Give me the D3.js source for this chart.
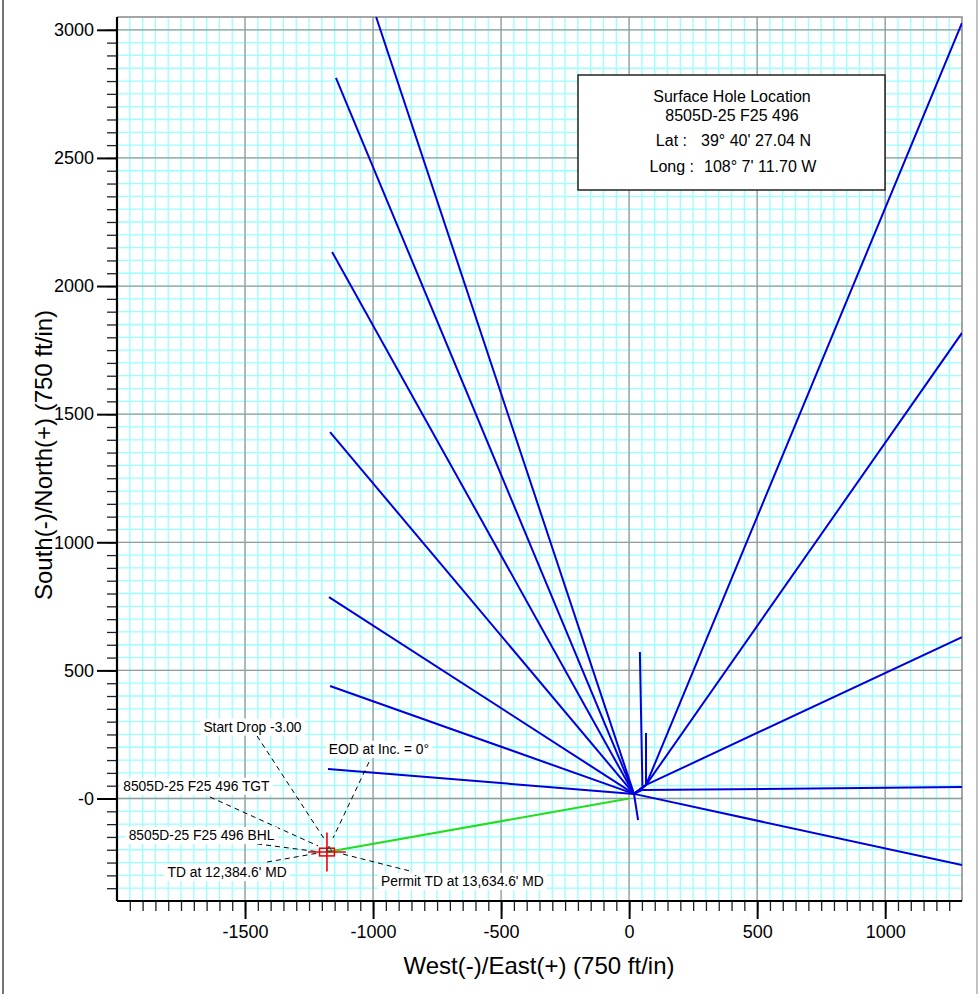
<!DOCTYPE html>
<html>
<head>
<meta charset="utf-8">
<script src="https://cdn.jsdelivr.net/npm/d3@7"></script>
<style>
  body { margin: 0; background: #fff; }
  text { font-family: "Liberation Sans", Arial, sans-serif; }
</style>
</head>
<body>
<div id="plan"></div>
<script>
// plan view data (ft): offset wells, subject well, target, labels
const xMajorTicks = [-1500, -1000, -500, 0, 500, 1000];
const yMajorTicks = [0, 500, 1000, 1500, 2000, 2500, 3000];

const offsetWells = [
  [[19, 18], [-988, 3050]],
  [[19, 18], [-1145, 2812]],
  [[19, 18], [-1160, 2133]],
  [[19, 18], [-1168, 1430]],
  [[19, 18], [-1172, 786]],
  [[19, 18], [-1168, 439]],
  [[19, 18], [-1176, 115]],
  [[19, 18], [35, -84]],
  [[19, 18], [52, 42], [42, 572]],
  [[19, 18], [66, 53], [66, 256]],
  [[19, 18], [66, 53], [1300, 3027]],
  [[19, 18], [66, 53], [1300, 1817]],
  [[19, 18], [66, 53], [1300, 630]],
  [[19, 18], [50, 33], [1300, 45]],
  [[19, 18], [1300, -260]]
];

const subjectWell = [[0, 0], [-1180, -209]];
const target = { x: -1180, y: -209 };

const annotations = [
  { text: "Start Drop -3.00", lx: -1471, ly: 261, from: [-1453, 244], to: [-1188, -162] },
  { text: "EOD at Inc. = 0°", lx: -977, ly: 174, from: [-1016, 142], to: [-1156, -154] },
  { text: "8505D-25 F25 496 TGT", lx: -1690, ly: 30, from: [-1637, 6], to: [-1215, -185] },
  { text: "8505D-25 F25 496 BHL", lx: -1670, ly: -162, from: [-1453, -177], to: [-1207, -209] },
  { text: "TD at 12,384.6' MD", lx: -1570, ly: -307, from: [-1414, -248], to: [-1215, -213] },
  { text: "Permit TD at 13,634.6' MD", lx: -651, ly: -341, from: [-1117, -217], to: [-856, -283] }
];

const legendTitle = ["Surface Hole Location", "8505D-25 F25 496"];
const legendRows = [["Lat :", "39° 40' 27.04 N"], ["Long :", "108° 7' 11.70 W"]];

// set the dimensions of the page and plot area
const W = 979, H = 994;
const plot = { left: 117, right: 962, top: 17, bottom: 901 };

const svg = d3.select("#plan")
  .append("svg")
  .attr("width", W)
  .attr("height", H);

const x = d3.scaleLinear().domain([-2000, 1300]).range([plot.left, plot.right]);
const y = d3.scaleLinear().domain([-400, 3050]).range([plot.bottom, plot.top]);

// page border lines
svg.append("line").attr("x1", 3).attr("x2", 3).attr("y1", 0).attr("y2", H)
  .attr("stroke", "#444").attr("stroke-width", 1.5);
svg.append("line").attr("x1", 977).attr("x2", 977).attr("y1", 0).attr("y2", H)
  .attr("stroke", "#999").attr("stroke-width", 1.2);

svg.append("clipPath").attr("id", "clip")
  .append("rect")
  .attr("x", plot.left).attr("y", plot.top)
  .attr("width", plot.right - plot.left).attr("height", plot.bottom - plot.top);

// minor grid (every 50 ft)
const xMinor = d3.range(-1950, 1300, 50);
const yMinor = d3.range(-350, 3050, 50);
const grid = svg.append("g");
grid.selectAll(".vmin").data(xMinor).join("line")
  .attr("x1", d => x(d)).attr("x2", d => x(d))
  .attr("y1", plot.top).attr("y2", plot.bottom)
  .attr("stroke", "#99ffff").attr("stroke-width", 1.3);
grid.selectAll(".hmin").data(yMinor).join("line")
  .attr("y1", d => y(d)).attr("y2", d => y(d))
  .attr("x1", plot.left).attr("x2", plot.right)
  .attr("stroke", "#99ffff").attr("stroke-width", 1.3);

// major grid
grid.selectAll(".vmaj").data(xMajorTicks).join("line")
  .attr("x1", d => x(d)).attr("x2", d => x(d))
  .attr("y1", plot.top).attr("y2", plot.bottom)
  .attr("stroke", "#999").attr("stroke-width", 1.3);
grid.selectAll(".hmaj").data(yMajorTicks).join("line")
  .attr("y1", d => y(d)).attr("y2", d => y(d))
  .attr("x1", plot.left).attr("x2", plot.right)
  .attr("stroke", "#999").attr("stroke-width", 1.3);

// top and right frame
svg.append("path")
  .attr("d", `M${plot.left},${plot.top}H${plot.right}V${plot.bottom}`)
  .attr("fill", "none").attr("stroke", "#888").attr("stroke-width", 1.5);

const line = d3.line().x(d => x(d[0])).y(d => y(d[1]));

const wells = svg.append("g").attr("clip-path", "url(#clip)");
wells.selectAll("path.offset").data(offsetWells).join("path")
  .attr("class", "offset")
  .attr("d", line)
  .attr("fill", "none")
  .attr("stroke", "#0000dd")
  .attr("stroke-width", 2)
  .attr("stroke-linejoin", "round");

wells.append("path")
  .attr("d", line(subjectWell))
  .attr("fill", "none")
  .attr("stroke", "#22dd22")
  .attr("stroke-width", 2);

// legend box
const lg = svg.append("g");
lg.append("rect")
  .attr("x", 578).attr("y", 75).attr("width", 307).attr("height", 115)
  .attr("fill", "#fff").attr("stroke", "#222").attr("stroke-width", 1.5);
lg.selectAll(".ttl").data(legendTitle).join("text")
  .attr("x", 732).attr("y", (d, i) => 102 + i * 19)
  .attr("text-anchor", "middle")
  .attr("font-size", 16)
  .text(d => d);
legendRows.forEach((r, i) => {
  lg.append("text")
    .attr("x", i === 0 ? 687 : 694).attr("y", 146 + i * 26)
    .attr("text-anchor", "end").attr("font-size", 16)
    .text(r[0]);
  lg.append("text")
    .attr("x", i === 0 ? 701 : 704).attr("y", 146 + i * 26)
    .attr("font-size", 16)
    .text(r[1]);
});

// annotations with dashed leaders
const ann = svg.append("g");
ann.selectAll("line").data(annotations).join("line")
  .attr("x1", d => x(d.from[0])).attr("y1", d => y(d.from[1]))
  .attr("x2", d => x(d.to[0])).attr("y2", d => y(d.to[1]))
  .attr("stroke", "#000").attr("stroke-width", 1)
  .attr("stroke-dasharray", "5,4");

annotations.forEach(a => {
  const g = ann.append("g");
  const t = g.append("text")
    .attr("x", x(a.lx)).attr("y", y(a.ly))
    .attr("text-anchor", "middle")
    .attr("font-size", 13.8)
    .text(a.text);
  const bb = t.node().getBBox();
  g.insert("rect", "text")
    .attr("x", bb.x - 3).attr("y", bb.y - 1)
    .attr("width", bb.width + 6).attr("height", bb.height + 2)
    .attr("fill", "#fff");
});

// target marker: permit box, crosshair and TD symbol
const mk = svg.append("g");
mk.append("line")
  .attr("x1", x(target.x)).attr("x2", x(target.x))
  .attr("y1", y(target.y + 76)).attr("y2", y(target.y - 76))
  .attr("stroke", "#ee0000").attr("stroke-width", 1.6);
mk.append("line")
  .attr("x1", x(target.x - 74)).attr("x2", x(target.x + 74))
  .attr("y1", y(target.y)).attr("y2", y(target.y))
  .attr("stroke", "#ee0000").attr("stroke-width", 1.6);
mk.append("rect")
  .attr("x", x(target.x - 29)).attr("y", y(target.y + 15))
  .attr("width", x(target.x + 29) - x(target.x - 29))
  .attr("height", y(target.y - 15) - y(target.y + 15))
  .attr("fill", "none").attr("stroke", "#ee0000").attr("stroke-width", 1.5);
mk.append("path")
  .attr("d", d3.symbol(d3.symbolTriangle, 14)())
  .attr("transform", `translate(${x(target.x + 8)},${y(target.y + 10)})`)
  .attr("fill", "none").attr("stroke", "#333").attr("stroke-width", 1);

// axes
const xAxis = svg.append("g").attr("transform", `translate(0,${plot.bottom})`);
xAxis.call(d3.axisBottom(x).tickValues(xMinor).tickSize(10).tickFormat(""))
  .call(g => g.select(".domain").remove())
  .selectAll("line").attr("stroke", "#222").attr("stroke-width", 1.3);
xAxis.append("g")
  .call(d3.axisBottom(x).tickValues(xMajorTicks).tickSize(18).tickPadding(6).tickFormat(d => d))
  .call(g => g.select(".domain").remove())
  .call(g => g.selectAll("line").attr("stroke", "#000").attr("stroke-width", 2))
  .call(g => g.selectAll("text").attr("font-size", 18).attr("fill", "#000")
    .attr("font-family", "'Liberation Sans', Arial, sans-serif"));
xAxis.append("line")
  .attr("x1", plot.left).attr("x2", plot.right)
  .attr("stroke", "#000").attr("stroke-width", 2.2);

const yAxis = svg.append("g").attr("transform", `translate(${plot.left},0)`);
yAxis.call(d3.axisLeft(y).tickValues(yMinor).tickSize(10).tickFormat(""))
  .call(g => g.select(".domain").remove())
  .selectAll("line").attr("stroke", "#222").attr("stroke-width", 1.3);
yAxis.append("g")
  .call(d3.axisLeft(y).tickValues(yMajorTicks).tickSize(20).tickPadding(3)
    .tickFormat(d => d === 0 ? "-0" : d))
  .call(g => g.select(".domain").remove())
  .call(g => g.selectAll("line").attr("stroke", "#000").attr("stroke-width", 2))
  .call(g => g.selectAll("text").attr("font-size", 18).attr("fill", "#000")
    .attr("font-family", "'Liberation Sans', Arial, sans-serif"));
yAxis.append("line")
  .attr("y1", plot.top).attr("y2", plot.bottom)
  .attr("stroke", "#000").attr("stroke-width", 2.2);

// axis titles
svg.append("text")
  .attr("x", 539).attr("y", 974)
  .attr("text-anchor", "middle")
  .attr("font-size", 24)
  .text("West(-)/East(+) (750 ft/in)");
svg.append("text")
  .attr("transform", "translate(52,455) rotate(-90)")
  .attr("text-anchor", "middle")
  .attr("font-size", 24)
  .text("South(-)/North(+) (750 ft/in)");
</script>
</body>
</html>
